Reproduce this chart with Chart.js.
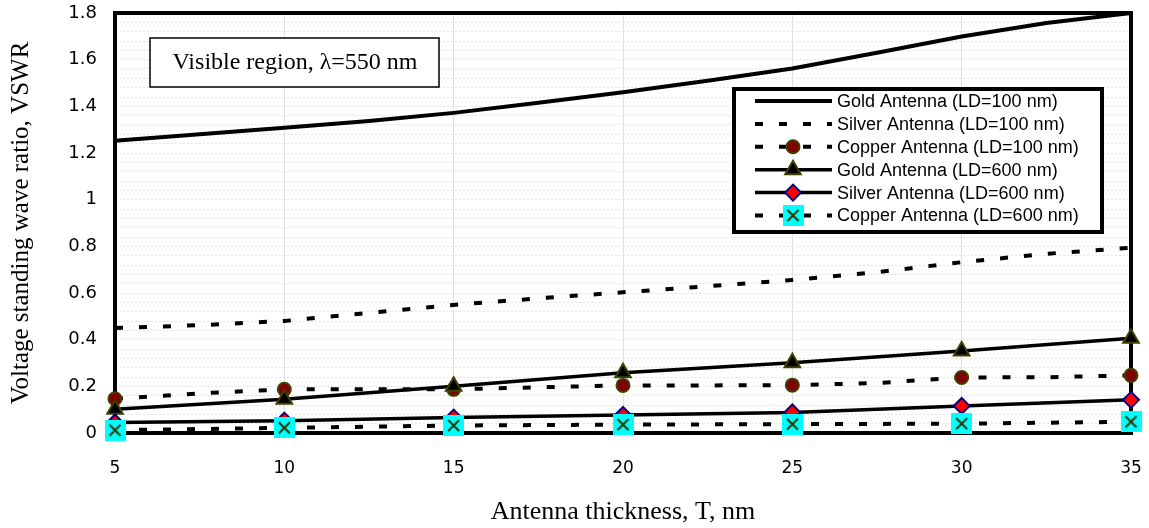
<!DOCTYPE html>
<html>
<head>
<meta charset="utf-8">
<script src="https://cdn.jsdelivr.net/npm/chart.js@4.4.0/dist/chart.umd.min.js"></script>
<style>
  html, body { margin: 0; padding: 0; background: #fff; }
  #wrap { width: 1149px; height: 528px; }
</style>
</head>
<body>
<div id="wrap"><canvas id="vswrChart"></canvas></div>
<script>
// Antenna thickness (nm)
const thicknessFine = [5, 7.5, 10, 12.5, 15, 17.5, 20, 22.5, 25, 27.5, 30, 32.5, 35];
const thickness = [5, 10, 15, 20, 25, 30, 35];

// VSWR values
const gold100   = [1.253, 1.28, 1.308, 1.337, 1.372, 1.415, 1.46, 1.51, 1.562, 1.63, 1.699, 1.757, 1.8];
const silver100 = [0.45, 0.462, 0.48, 0.515, 0.549, 0.577, 0.603, 0.629, 0.656, 0.689, 0.732, 0.768, 0.794];
const copper100 = [0.147, 0.17, 0.187, 0.187, 0.187, 0.196, 0.204, 0.204, 0.205, 0.214, 0.238, 0.239, 0.247];
const gold600   = [0.102, 0.145, 0.2, 0.258, 0.301, 0.351, 0.406];
const silver600 = [0.045, 0.053, 0.066, 0.077, 0.088, 0.116, 0.142];
const copper600 = [0.012, 0.022, 0.032, 0.036, 0.038, 0.04, 0.048];

const seriesNames = [
  "Gold Antenna (LD=100 nm)",
  "Silver Antenna (LD=100 nm)",
  "Copper Antenna (LD=100 nm)",
  "Gold Antenna (LD=600 nm)",
  "Silver Antenna (LD=600 nm)",
  "Copper Antenna (LD=600 nm)",
];
const yMajorTicks = [0, 0.2, 0.4, 0.6, 0.8, 1, 1.2, 1.4, 1.6, 1.8];
const xTicks = [5, 10, 15, 20, 25, 30, 35];
const noteText = "Visible region, \u03bb=550 nm";

function pts(xs, ys) {
  return xs.map((x, i) => ({ x: x, y: ys[i] }));
}

// marcador ciano com X (cobre 600 nm)
const cyanX = document.createElement("canvas");
cyanX.width = 21;
cyanX.height = 21;
(function () {
  const c = cyanX.getContext("2d");
  c.fillStyle = "#00ffff";
  c.fillRect(0, 0, 21, 21);
  c.strokeStyle = "#333300";
  c.lineWidth = 2;
  c.beginPath();
  c.moveTo(5, 5); c.lineTo(16, 16);
  c.moveTo(16, 5); c.lineTo(5, 16);
  c.stroke();
})();

const onFive = (ctx) => ctx.raw && ctx.raw.x % 5 === 0;
const DASH = [8, 16];

const datasets = [
  {
    label: seriesNames[0], data: pts(thicknessFine, gold100),
    borderColor: "#000", borderWidth: 4, pointRadius: 0, order: 6,
  },
  {
    label: seriesNames[1], data: pts(thicknessFine, silver100),
    borderColor: "#000", borderWidth: 4, borderDash: DASH, pointRadius: 0, order: 5,
  },
  {
    label: seriesNames[2], data: pts(thicknessFine, copper100),
    borderColor: "#000", borderWidth: 4, borderDash: DASH, order: 4,
    pointStyle: "circle", pointRadius: (ctx) => (onFive(ctx) ? 6.5 : 0),
    pointBackgroundColor: "#800000", pointBorderColor: "#404000", pointBorderWidth: 2,
  },
  {
    label: seriesNames[3], data: pts(thickness, gold600),
    borderColor: "#000", borderWidth: 3.5, order: 3,
    pointStyle: "triangle", pointRadius: 9,
    pointBackgroundColor: "#000", pointBorderColor: "#404000", pointBorderWidth: 2,
  },
  {
    label: seriesNames[4], data: pts(thickness, silver600),
    borderColor: "#000", borderWidth: 3.5, order: 2,
    pointStyle: "rectRot", pointRadius: 8,
    pointBackgroundColor: "#ff0000", pointBorderColor: "#000080", pointBorderWidth: 2,
  },
  {
    label: seriesNames[5], data: pts(thickness, copper600),
    borderColor: "#000", borderWidth: 4, borderDash: DASH, order: 1,
    pointStyle: cyanX, pointRadius: 10,
  },
];
datasets.forEach((d) => { d.clip = false; d.tension = 0; d.fill = false; });

function drawMarker(ctx, ds, x, y) {
  const style = ds.pointStyle;
  if (!style) return;
  if (style instanceof HTMLCanvasElement) {
    ctx.drawImage(style, x - style.width / 2, y - style.height / 2);
    return;
  }
  const r = typeof ds.pointRadius === "function" ? 6.5 : ds.pointRadius;
  ctx.beginPath();
  if (style === "circle") {
    ctx.arc(x, y, r, 0, Math.PI * 2);
  } else if (style === "triangle") {
    ctx.moveTo(x, y - r);
    ctx.lineTo(x + r * Math.cos(Math.PI / 6), y + r / 2);
    ctx.lineTo(x - r * Math.cos(Math.PI / 6), y + r / 2);
  } else if (style === "rectRot") {
    ctx.moveTo(x - r, y); ctx.lineTo(x, y - r); ctx.lineTo(x + r, y); ctx.lineTo(x, y + r);
  }
  ctx.closePath();
  ctx.setLineDash([]);
  ctx.fillStyle = ds.pointBackgroundColor;
  ctx.fill();
  ctx.lineWidth = ds.pointBorderWidth;
  ctx.strokeStyle = ds.pointBorderColor;
  ctx.stroke();
}

const decorations = {
  id: "decorations",
  beforeDatasetsDraw(chart) {
    const { ctx, chartArea: a } = chart;
    ctx.save();
    ctx.lineWidth = 4;
    ctx.strokeStyle = "#000";
    ctx.strokeRect(a.left, a.top, a.right - a.left, a.bottom - a.top);
    ctx.restore();
  },
  afterDraw(chart) {
    const ctx = chart.ctx;
    ctx.save();
    // caixa de texto
    ctx.fillStyle = "#fff";
    ctx.fillRect(150, 38, 289, 49);
    ctx.lineWidth = 1.5;
    ctx.strokeStyle = "#000";
    ctx.strokeRect(150, 38, 289, 49);
    ctx.fillStyle = "#000";
    ctx.font = "24px 'Liberation Serif', 'Times New Roman', serif";
    ctx.textAlign = "center";
    ctx.textBaseline = "middle";
    ctx.fillText(noteText, 295, 63);

    // legenda
    ctx.fillStyle = "#fff";
    ctx.fillRect(734, 89, 368, 143);
    ctx.lineWidth = 4;
    ctx.strokeStyle = "#000";
    ctx.strokeRect(734, 89, 368, 143);
    ctx.font = "18px 'Liberation Sans', Arial, sans-serif";
    ctx.textAlign = "left";
    chart.data.datasets.forEach((ds, i) => {
      const y = 101 + i * 22.9;
      ctx.beginPath();
      ctx.setLineDash(ds.borderDash || []);
      ctx.lineDashOffset = 0;
      ctx.lineWidth = ds.borderWidth;
      ctx.strokeStyle = ds.borderColor;
      ctx.moveTo(755, y);
      ctx.lineTo(832, y);
      ctx.stroke();
      drawMarker(ctx, ds, 793, y);
      ctx.setLineDash([]);
      ctx.fillStyle = "#000";
      ctx.fillText(ds.label, 837, y + 1);
    });
    ctx.restore();
  },
};

const config = {
  type: "line",
  data: { datasets: datasets },
  options: {
    responsive: true,
    maintainAspectRatio: false,
    animation: false,
    layout: { autoPadding: false, padding: 0 },
    plugins: { legend: { display: false }, tooltip: { enabled: false } },
    scales: {
      x: {
        type: "linear",
        min: 5,
        max: 35,
        afterFit: (s) => { s.height = 95; s.paddingRight = 18; s.paddingLeft = 0; },
        afterBuildTicks: (s) => { s.ticks = xTicks.map((v) => ({ value: v })); },
        ticks: {
          padding: 25,
          color: "#000",
          font: { family: "'DejaVu Sans', sans-serif", size: 17 },
        },
        grid: { color: "#e0e0e0", lineWidth: 1, drawTicks: false },
        border: { display: false },
        title: {
          display: true,
          text: "Antenna thickness, T, nm",
          color: "#000",
          font: { family: "'Liberation Serif', 'Times New Roman', serif", size: 26 },
          padding: { top: 0, bottom: 0 },
        },
      },
      y: {
        min: 0,
        max: 1.8,
        afterFit: (s) => { s.width = 115; s.paddingTop = 13; s.paddingBottom = 0; },
        ticks: {
          stepSize: 0.04,
          autoSkip: false,
          padding: 18,
          color: "#000",
          font: { family: "'DejaVu Sans', sans-serif", size: 18 },
          callback: (v) => {
            const hit = yMajorTicks.find((t) => Math.abs(t - v) < 1e-6);
            return hit === undefined ? "" : String(hit);
          },
        },
        grid: { color: "#e2e2e2", lineWidth: 1, drawTicks: false },
        border: { display: false, dash: [2, 2] },
        title: {
          display: true,
          text: "Voltage standing wave ratio, VSWR",
          color: "#000",
          font: { family: "'Liberation Serif', 'Times New Roman', serif", size: 25 },
          padding: { top: 6, bottom: 0 },
        },
      },
    },
  },
  plugins: [decorations],
};

const vswrChart = new Chart(document.getElementById("vswrChart"), config);
</script>
</body>
</html>
